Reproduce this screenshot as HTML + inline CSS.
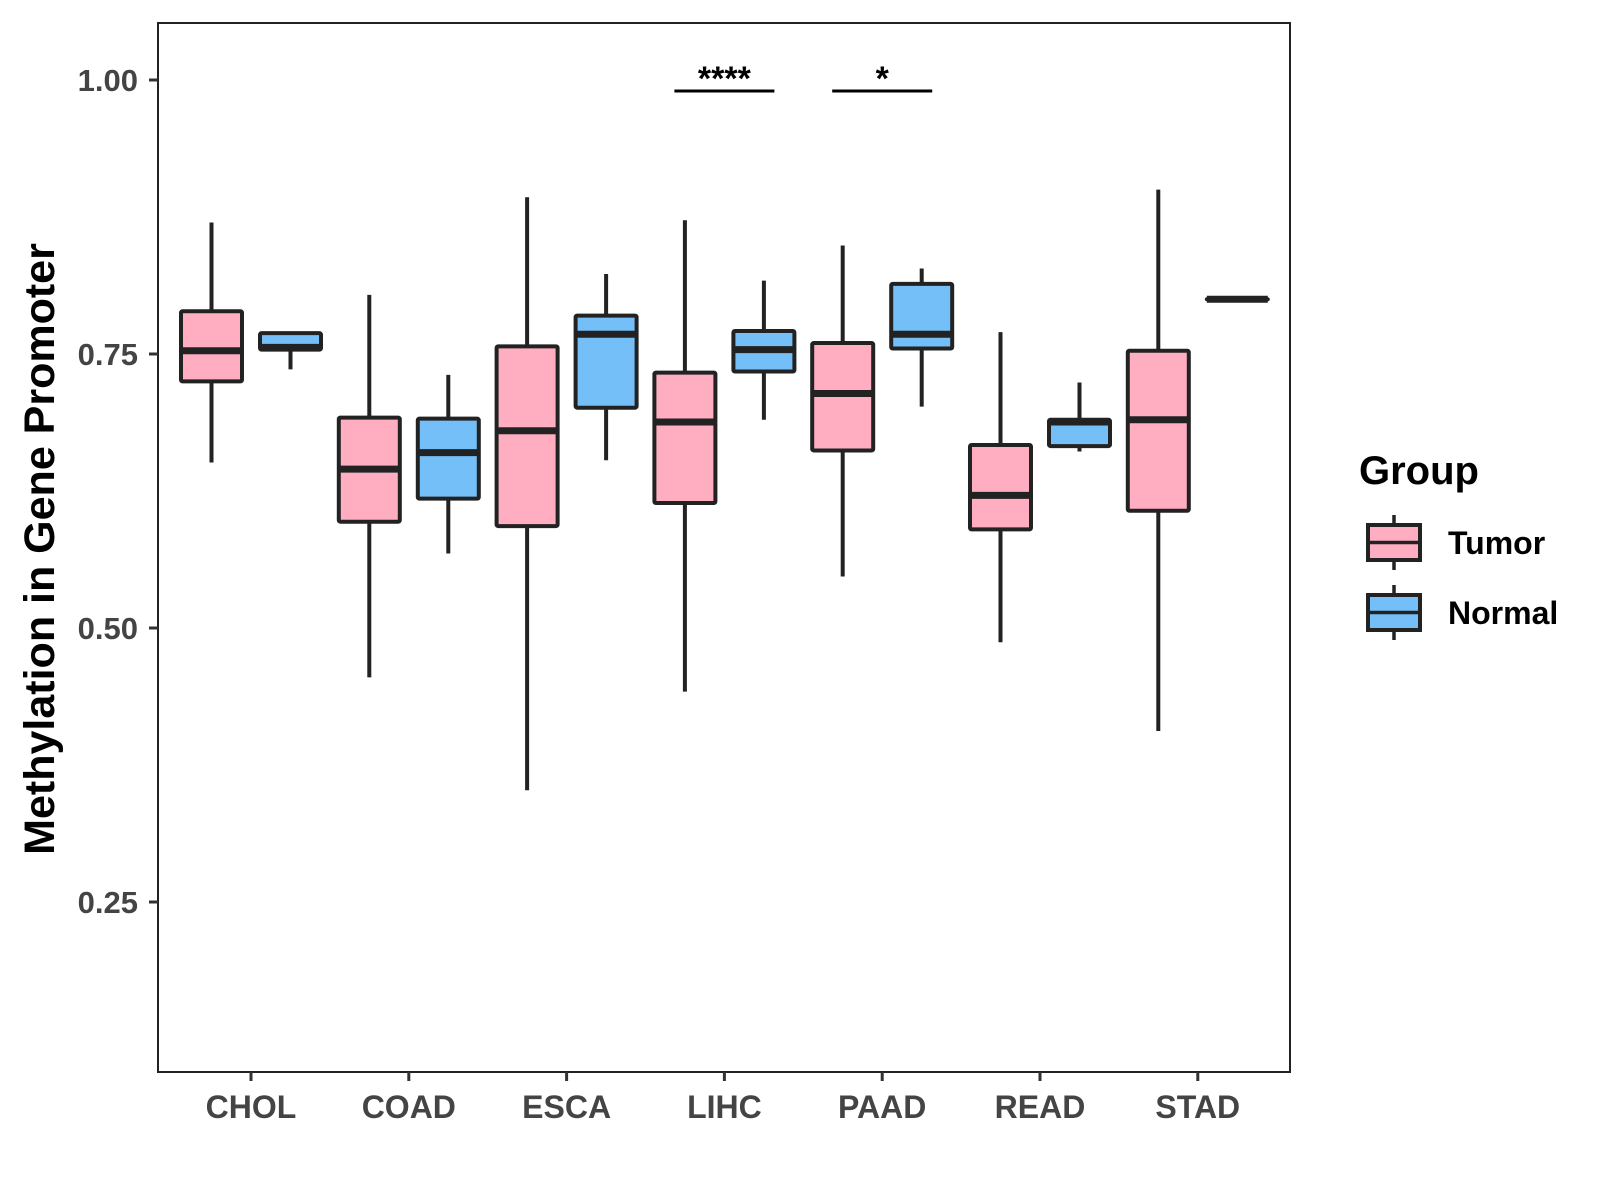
<!DOCTYPE html>
<html><head><meta charset="utf-8"><style>
body{margin:0;background:#fff}
svg{display:block;font-family:"Liberation Sans",Arial,sans-serif}
</style></head><body>
<svg id="c" width="1600" height="1200" xmlns="http://www.w3.org/2000/svg">
<rect x="0" y="0" width="1600" height="1200" fill="#fff"/>
<rect x="158" y="23" width="1132" height="1049" fill="none" stroke="#222" stroke-width="2"/>
<text transform="translate(54,549) rotate(-90)" text-anchor="middle" font-size="43" font-weight="bold" fill="#000">Methylation in Gene Promoter</text>
<text x="1359" y="484" font-size="40" font-weight="bold" fill="#000">Group</text>
<g id="g"></g>
</svg>
<script>
const categories=["CHOL","COAD","ESCA","LIHC","PAAD","READ","STAD"];
const groups=["Tumor","Normal"];
const tumorStats=[[0.651,0.725,0.753,0.789,0.870],[0.455,0.597,0.645,0.692,0.804],[0.352,0.593,0.680,0.757,0.893],[0.442,0.614,0.688,0.733,0.872],[0.547,0.662,0.714,0.760,0.849],[0.487,0.590,0.621,0.667,0.770],[0.406,0.607,0.690,0.753,0.900]];
const normalStats=[[0.736,0.754,0.756,0.769,0.769],[0.568,0.618,0.660,0.691,0.731],[0.653,0.701,0.768,0.785,0.823],[0.690,0.734,0.754,0.771,0.817],[0.702,0.755,0.768,0.814,0.828],[0.661,0.666,0.688,0.690,0.724],[0.800,0.800,0.800,0.800,0.800]];
const yTicks=[0.25,0.5,0.75,1.0];
const yTickLabels=["0.25","0.50","0.75","1.00"];
const sigPairs=[{cat:3,label:"****",y:0.99},{cat:4,label:"*",y:0.99}];
const colors=["#FFAEC1","#74BFF8"];
const NS="http://www.w3.org/2000/svg";
const g=document.getElementById('g');
const yS=v=>80+(1-v)*1096;
const xS=i=>251+i*157.8;
function mk(t,a,p){const e=document.createElementNS(NS,t);for(const k in a)e.setAttribute(k,a[k]);(p||g).appendChild(e);return e;}
yTicks.forEach((v,i)=>{
 const t=mk('line',{x1:149,x2:158,y1:yS(v),y2:yS(v),stroke:'#333','stroke-width':3});
 
 
 const l=mk('text',{x:138,y:yS(v)+11,'text-anchor':'end','font-size':31,'font-weight':'bold',fill:'#444'});
 l.textContent=yTickLabels[i];
 
 
});
categories.forEach((c,i)=>{
 const t=mk('line',{x1:xS(i),x2:xS(i),y1:1072,y2:1081,stroke:'#333','stroke-width':3});
 
 
 const l=mk('text',{x:xS(i),y:1118,'text-anchor':'middle','font-size':32,'font-weight':'bold',fill:'#444'});
 l.textContent=c;
 
 
 [tumorStats[i],normalStats[i]].forEach((s,j)=>{
  const cx=xS(i)+(j?39.5:-39.5),w=61;
  const bg=mk('g',{});
  
  
  mk('line',{x1:cx,x2:cx,y1:yS(s[4]),y2:yS(s[0]),stroke:'#222','stroke-width':4},bg);
  mk('rect',{x:cx-w/2,y:yS(s[3]),width:w,height:Math.max(0.1,yS(s[1])-yS(s[3])),fill:colors[j],stroke:'#222','stroke-width':4,rx:1.5},bg);
  mk('line',{x1:cx-w/2,x2:cx+w/2,y1:yS(s[2]),y2:yS(s[2]),stroke:'#222','stroke-width':7},bg);
 });
});
sigPairs.forEach(p=>{
 const x1=xS(p.cat)-50,x2=xS(p.cat)+50,y=yS(p.y);
 const ln=mk('line',{x1:x1,x2:x2,y1:y,y2:y,stroke:'#000','stroke-width':3});
 
 
 const t=mk('text',{x:xS(p.cat),y:y-1,'text-anchor':'middle','font-size':34,'font-weight':'bold',fill:'#000'});
 t.textContent=p.label;
 
 
});
groups.forEach((gr,j)=>{
 const top=525+j*70;
 const lg=mk('g',{});
 
 
 mk('line',{x1:1394,x2:1394,y1:top-10,y2:top+45,stroke:'#222','stroke-width':3.5},lg);
 mk('rect',{x:1368,y:top,width:52,height:35,fill:colors[j],stroke:'#222','stroke-width':4},lg);
 mk('line',{x1:1368,x2:1420,y1:top+17.5,y2:top+17.5,stroke:'#222','stroke-width':3.5},lg);
 const t=mk('text',{x:1448,y:top+29,'font-size':32,'font-weight':'bold',fill:'#000'},lg);
 t.textContent=gr;
});
</script>
</body></html>
